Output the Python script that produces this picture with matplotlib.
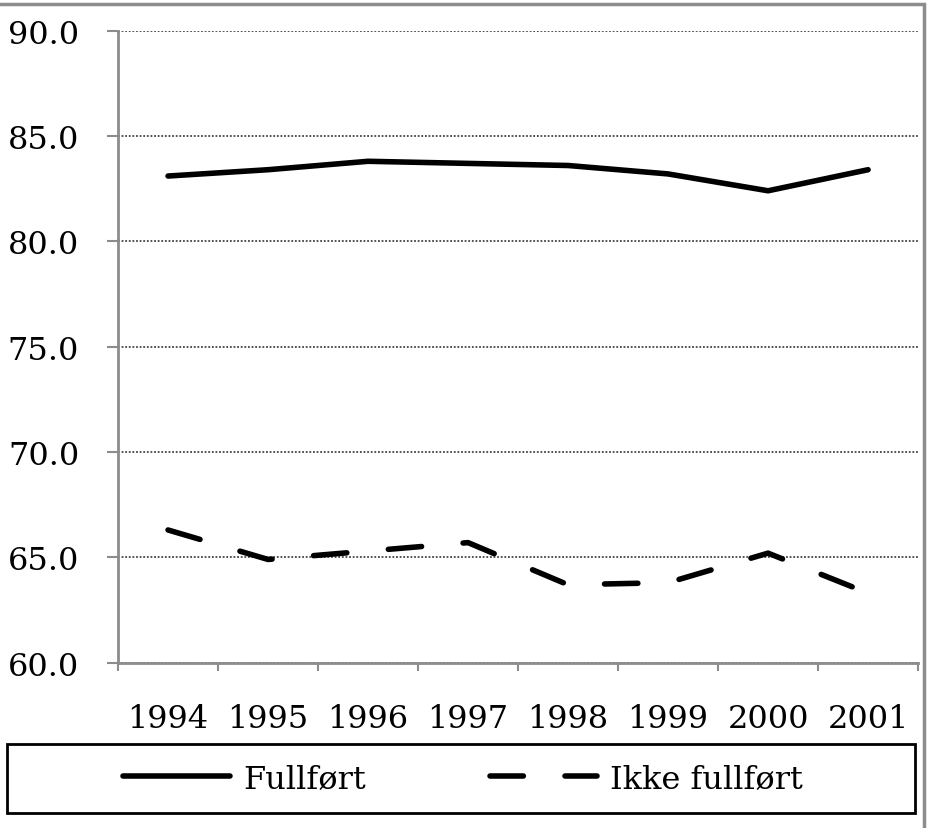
import matplotlib.pyplot as plt
from matplotlib.patches import Rectangle

aar = ['1994', '1995', '1996', '1997', '1998', '1999', '2000', '2001']
fullfort = [83.1, 83.4, 83.8, 83.7, 83.6, 83.2, 82.4, 83.4]
ikke_fullfort = [66.3, 64.9, 65.3, 65.7, 63.7, 63.8, 65.2, 63.3]
serie_navn = ['Fullført', 'Ikke fullført']

plt.rcParams['font.family'] = ['DejaVu Serif']
plt.rcParams['font.size'] = 23

fig = plt.figure(figsize=(9.33, 8.29), dpi=100)
ax = fig.add_axes([0.1265, 0.1994, 0.8575, 0.7624])

x = range(len(aar))
ax.plot(x, fullfort, color='black', lw=4, solid_capstyle='round',
        solid_joinstyle='round', label=serie_navn[0], zorder=3)
ax.plot(x, ikke_fullfort, color='black', lw=4, dashes=(6.0, 7.5),
        dash_capstyle='round', dash_joinstyle='round',
        label=serie_navn[1], zorder=3)

ax.set_xlim(-0.5, len(aar) - 0.5)
ax.set_ylim(60, 90)
ax.set_yticks([60, 65, 70, 75, 80, 85, 90])
ax.set_yticklabels(['%.1f' % v for v in [60, 65, 70, 75, 80, 85, 90]])

# category boundaries get the tick marks, labels sit in the middle
ax.set_xticks([i - 0.5 for i in range(len(aar) + 1)])
ax.set_xticklabels([])
ax.set_xticks(list(x), minor=True)
ax.set_xticklabels(aar, minor=True)
ax.tick_params(axis='x', which='major', direction='out', length=6,
               width=1.5, color='#8c8c8c')
ax.tick_params(axis='x', which='minor', length=0, pad=29)
ax.tick_params(axis='y', direction='out', length=8, width=1.5,
               color='#8c8c8c', pad=20)

ax.grid(axis='y', linestyle=(0, (1, 1.0)), color='#444444', lw=1.3)
ax.set_axisbelow(True)
for s in ['top', 'right']:
    ax.spines[s].set_visible(False)
for s in ['left', 'bottom']:
    ax.spines[s].set_color('#8c8c8c')
    ax.spines[s].set_linewidth(2)

# outer chart frame (only top and right visible)
fig.patches.append(Rectangle((-0.02, -0.02), 0.9903 + 0.02, 0.994 + 0.02,
                             transform=fig.transFigure, fill=False,
                             edgecolor='#8c8c8c', lw=2.5))

# legend box
fig.patches.append(Rectangle((0.0075, 0.018), 0.9735, 0.0833,
                             transform=fig.transFigure, fill=False,
                             edgecolor='black', lw=2))
fig.legend(loc='center', bbox_to_anchor=(0.4963, 0.059), ncol=2,
           frameon=False, handlelength=3.35, handletextpad=0.4,
           columnspacing=3.9, fontsize=23)

fig.savefig('out.png', dpi=100)
